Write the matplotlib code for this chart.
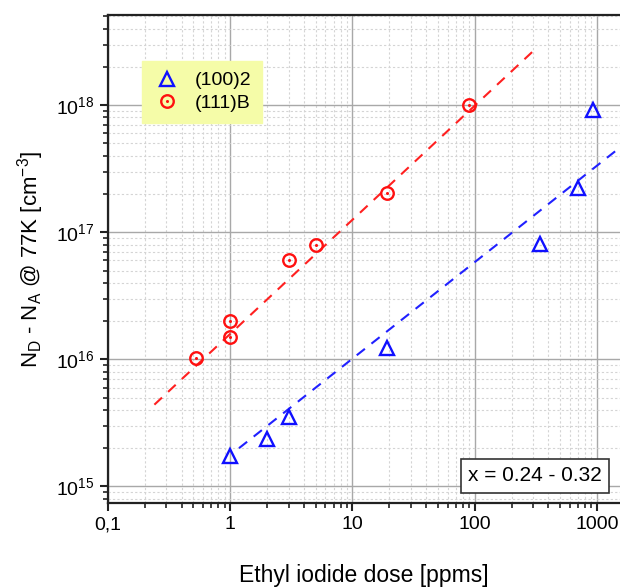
import matplotlib
matplotlib.use("Agg")
import matplotlib.pyplot as plt
from matplotlib.ticker import LogLocator, FixedLocator, FixedFormatter, NullFormatter

plt.rcParams["font.family"] = ["Liberation Sans", "DejaVu Sans"]
plt.rcParams["mathtext.fontset"] = "custom"
plt.rcParams["mathtext.rm"] = "Liberation Sans"
plt.rcParams["mathtext.it"] = "Liberation Sans:italic"

# (100)2 orientation
dose_100 = [1, 2, 3, 19, 340, 700, 930]
nd_100 = [1.75e15, 2.35e15, 3.5e15, 1.22e16, 8.1e16, 2.25e17, 9.2e17]
# (111)B orientation
dose_111 = [0.53, 1, 1, 3, 5, 19, 90]
nd_111 = [1.02e16, 1.5e16, 2.0e16, 6.0e16, 8.0e16, 2.02e17, 1.0e18]
# fitted trend lines
fit_111_x = [0.24, 330]
fit_111_y = [4.4e15, 2.9e18]
fit_100_x = [1.18, 1520]
fit_100_y = [2.0e15, 4.6e17]

xticks = [0.1, 1, 10, 100, 1000]
xticklabels = ["0,1", "1", "10", "100", "1000"]
yticks = [1e15, 1e16, 1e17, 1e18]

fig = plt.figure(figsize=(6.2, 5.87), dpi=100)
ax = fig.add_axes([0.174, 0.143, 0.826, 0.831])
ax.set_xscale("log")
ax.set_yscale("log")
ax.set_xlim(0.1, 1540)
ax.set_ylim(7.4e14, 5.1e18)

ax.grid(True, which="major", color="#a8a8a8", lw=1.0, ls="-")
ax.grid(True, which="minor", color="#d4d4d4", lw=0.8, ls=(0, (2, 2)))
ax.set_axisbelow(True)

ax.plot(fit_111_x, fit_111_y, ls=(0, (5, 4)), color="#ff2020", lw=1.5)
ax.plot(fit_100_x, fit_100_y, ls=(0, (5, 4)), color="#2020ff", lw=1.5)
tri, = ax.plot(dose_100, nd_100, ls="none", marker="^", ms=10.5, mfc="none",
               mec="#1010ff", mew=1.7)
circ, = ax.plot(dose_111, nd_111, ls="none", marker="o", ms=9, mfc="none",
                mec="#ff1010", mew=1.7)
dot, = ax.plot(dose_111, nd_111, ls="none", marker="o", ms=2.2, mfc="#ff1010",
               mec="#ff1010", mew=0)

ax.xaxis.set_major_locator(FixedLocator(xticks))
ax.xaxis.set_major_formatter(FixedFormatter(xticklabels))
ax.xaxis.set_minor_locator(LogLocator(base=10, subs=range(2, 10), numticks=20))
ax.xaxis.set_minor_formatter(NullFormatter())
ax.yaxis.set_major_locator(FixedLocator(yticks))
ax.yaxis.set_minor_locator(LogLocator(base=10, subs=range(2, 10), numticks=20))
ax.yaxis.set_minor_formatter(NullFormatter())

ax.tick_params(which="major", direction="out", length=6, width=1.5, labelsize=14, color="#222222")
ax.tick_params(which="minor", direction="out", length=3.5, width=1.2, color="#222222")
for s in ["left", "bottom", "top"]:
    ax.spines[s].set_linewidth(1.6)
    ax.spines[s].set_color("#222222")
ax.spines["right"].set_visible(False)

ax.set_xlabel("Ethyl iodide dose [ppms]", fontsize=16.5, labelpad=22)
ax.set_ylabel(r"N$_\mathrm{D}$ - N$_\mathrm{A}$ @ 77K [cm$^{-3}$]", fontsize=16, labelpad=7)

leg = ax.legend([tri, (circ, dot)], ["(100)2", "(111)B"], loc="upper left",
                bbox_to_anchor=(0.067, 0.906), borderaxespad=0, fontsize=14,
                frameon=True, fancybox=False, handlelength=1.5, handletextpad=0.65,
                borderpad=0.55, labelspacing=0.25)
leg.get_frame().set_facecolor("#f5fca8")
leg.get_frame().set_edgecolor("#f5fca8")
leg.get_frame().set_alpha(1)

ax.text(0.965, 0.056, "x = 0.24 - 0.32", transform=ax.transAxes, fontsize=15,
        ha="right", va="center",
        bbox=dict(boxstyle="square,pad=0.35", fc="white", ec="#333333", lw=1.2))

fig.savefig("out.png", dpi=100)
